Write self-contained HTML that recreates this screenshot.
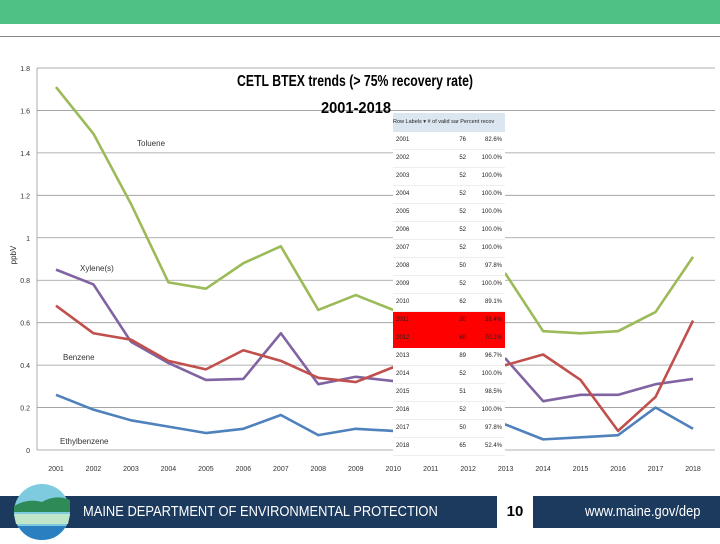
<!DOCTYPE html>
<html><head><meta charset="utf-8"><style>
body{margin:0;width:720px;height:540px;overflow:hidden;background:#fff;font-family:"Liberation Sans",sans-serif;position:relative}
</style></head><body>
<div style="position:absolute;left:0;top:0;width:720px;height:24px;background:#4fc185"></div>
<div style="position:absolute;left:0;top:36px;width:720px;height:1px;background:#888"></div>
<svg id="chart" width="720" height="540" style="position:absolute;left:0;top:0"></svg>
<div style="position:absolute;left:393px;top:113px;width:112px;height:343px;background:#fff;font-family:'Liberation Sans',sans-serif;font-size:6px;color:#222">
<div style="height:19px;background:#dce6f1;line-height:19px;white-space:nowrap;overflow:hidden;font-size:5.5px">Row Labels ▾ # of valid sar Percent recov</div>
<div id="rows"></div>
</div>
<div style="position:absolute;left:0;top:496px;width:720px;height:32px;background:#1c3a5e"></div>
<div style="position:absolute;left:83px;top:503px;color:#fff;font-size:15px;white-space:nowrap;transform:scaleX(0.86);transform-origin:left top">MAINE DEPARTMENT OF ENVIRONMENTAL PROTECTION</div>
<div style="position:absolute;left:497px;top:496px;width:36px;height:32px;background:#fff;color:#000;font-weight:bold;font-size:15px;text-align:center;line-height:32px">10</div>
<div style="position:absolute;left:585px;top:503px;color:#fff;font-size:15px;white-space:nowrap;transform:scaleX(0.86);transform-origin:left top">www.maine.gov/dep</div>
<svg width="80" height="60" style="position:absolute;left:8px;top:484px">
<circle cx="34" cy="28" r="28" fill="#7ecbe0"/>
<path d="M6 22 Q20 14 34 18 Q48 10 62 16 L62 28 L6 28Z" fill="#2e8b57"/>
<path d="M6 30 L62 30 L60 40 L8 40Z" fill="#bfe6c8"/>
<path d="M10 42 L58 42 Q50 56 34 56 Q18 56 10 42Z" fill="#2a7fc0"/>
</svg>
<script>
const years=[2001,2002,2003,2004,2005,2006,2007,2008,2009,2010,2011,2012,2013,2014,2015,2016,2017,2018];
const toluene=[1.71,1.49,1.16,0.79,0.76,0.88,0.96,0.66,0.73,0.66,0.70,0.75,0.83,0.56,0.55,0.56,0.65,0.91];
const xylenes=[0.85,0.78,0.51,0.41,0.33,0.335,0.55,0.31,0.345,0.325,0.36,0.40,0.43,0.23,0.26,0.26,0.31,0.335];
const benzene=[0.68,0.55,0.52,0.42,0.38,0.47,0.42,0.34,0.32,0.39,0.40,0.40,0.40,0.45,0.33,0.09,0.25,0.61];
const ethylbenzene=[0.26,0.19,0.14,0.11,0.08,0.10,0.165,0.07,0.10,0.09,0.10,0.11,0.12,0.05,0.06,0.07,0.20,0.10];
const yTicks=[0,0.2,0.4,0.6,0.8,1,1.2,1.4,1.6,1.8];
const tableCounts=[76,52,52,52,52,52,52,50,52,62,20,60,89,52,51,52,50,65];
const tablePct=["82.6%","100.0%","100.0%","100.0%","100.0%","100.0%","100.0%","97.8%","100.0%","89.1%","38.4%","70.1%","96.7%","100.0%","98.5%","100.0%","97.8%","52.4%"];
const NS="http://www.w3.org/2000/svg";
const svg=document.getElementById('chart');
const x=i=>56+i*(693-56)/17;
const y=v=>450-v*(450-68)/1.8;
function mk(t,a,txt){const e=document.createElementNS(NS,t);for(const k in a)e.setAttribute(k,a[k]);if(txt!=null)e.textContent=txt;svg.appendChild(e);return e;}
yTicks.forEach(v=>{
 const g=mk('line',{x1:37,x2:715,y1:y(v),y2:y(v),stroke:'#999','stroke-width':0.8});
 
 
 const t=mk('text',{x:30,y:y(v)+3,'font-size':7,'text-anchor':'end',fill:'#333','font-family':'Liberation Sans'},String(v));
 
 
});
const ax=mk('line',{x1:37,x2:37,y1:68,y2:450,stroke:'#999','stroke-width':0.8});


years.forEach((yr,i)=>{
 const t=mk('text',{x:x(i),y:471,'font-size':7,'text-anchor':'middle',fill:'#333','font-family':'Liberation Sans'},String(yr));
 
 
});
const yt=mk('text',{x:0,y:0,'font-size':8,fill:'#333','font-family':'Liberation Sans',transform:'translate(16,255) rotate(-90)','text-anchor':'middle'},'ppbV');


const series=[[toluene,'#9bbb59','toluene-line'],[xylenes,'#8064a2','xylenes-line'],[benzene,'#c0504d','benzene-line'],[ethylbenzene,'#4f81bd','ethylbenzene-line']];
series.forEach(([d,c,n])=>{
 const p=mk('polyline',{points:d.map((v,i)=>x(i)+','+y(v)).join(' '),fill:'none',stroke:c,'stroke-width':2.6,'stroke-linejoin':'round'});
 
 
});
[['Toluene',137,146],['Xylene(s)',80,271],['Benzene',63,360],['Ethylbenzene',60,444]].forEach(([s,a,b])=>{
 const t=mk('text',{x:a,y:b,'font-size':8,fill:'#333','font-family':'Liberation Sans'},s);
 
 
});
const t1=mk('text',{x:355,y:86,'font-size':16,'text-anchor':'middle',fill:'#000','font-family':'Liberation Sans','font-weight':'bold',textLength:236,lengthAdjust:'spacingAndGlyphs'},'CETL BTEX trends (> 75% recovery rate)');


const t2=mk('text',{x:356,y:113,'font-size':16,'text-anchor':'middle',fill:'#000','font-family':'Liberation Sans','font-weight':'bold',textLength:70,lengthAdjust:'spacingAndGlyphs'},'2001-2018');


const rows=document.getElementById('rows');
years.forEach((yr,i)=>{
 const r=document.createElement('div');
 
 
 const red=(yr===2011||yr===2012);
 r.style.cssText='height:17px;line-height:17px;display:flex;border-bottom:1px solid '+(red?'#f00':'#eee')+';background:'+(red?'#f00':'#fff');
 r.innerHTML='<span style="width:40px;padding-left:3px">'+yr+'</span><span style="width:30px;text-align:right">'+tableCounts[i]+'</span><span style="width:36px;text-align:right">'+tablePct[i]+'</span>';
 rows.appendChild(r);
});
</script>
</body></html>
